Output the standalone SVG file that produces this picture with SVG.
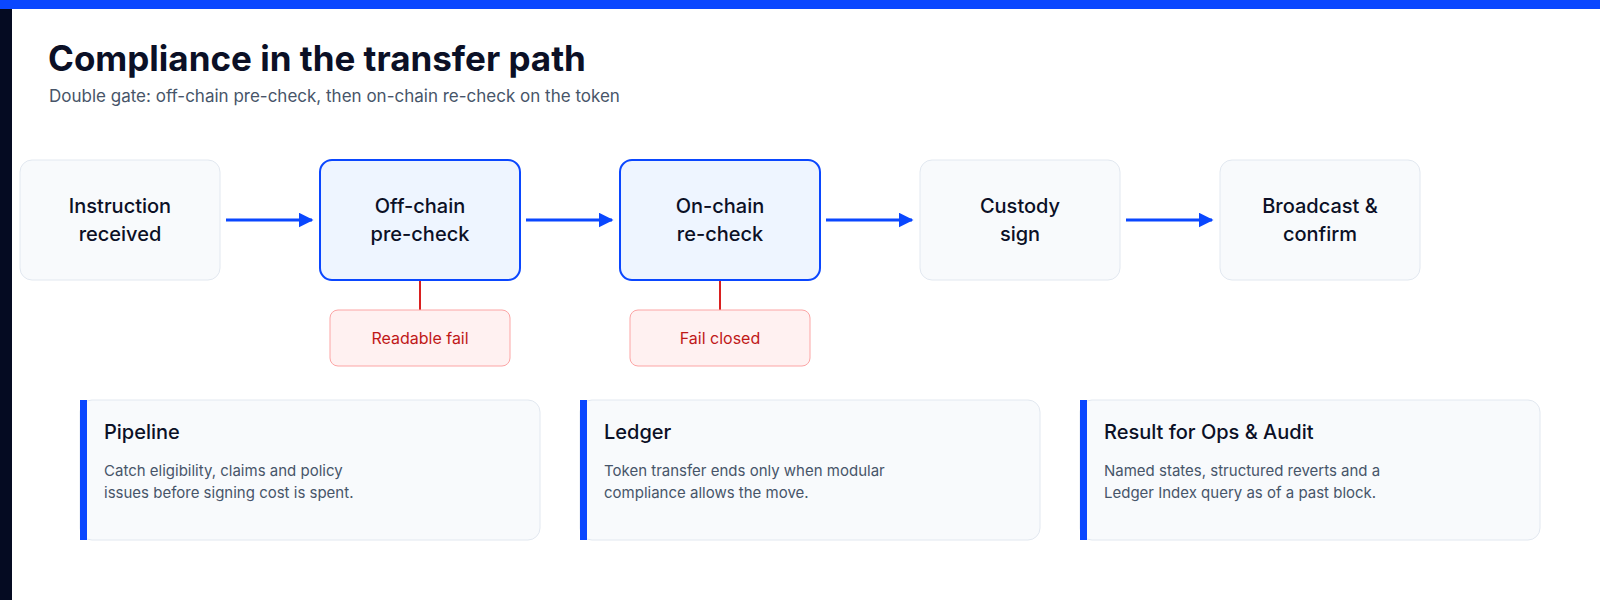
<svg xmlns="http://www.w3.org/2000/svg" width="1600" height="600" viewBox="0 0 1600 600">
<style>
text{font-family:Inter,"Noto Sans",sans-serif}
.node{fill:#f8fafc;stroke:#e2e8f0;stroke-width:1}
.act{fill:#eef5ff;stroke:#0a47ff;stroke-width:2}
.nt{font-size:20px;font-weight:500;fill:#0b1026;text-anchor:middle}
.fail{fill:#fff1f1;stroke:#fca5a5;stroke-width:1}
.ft{font-size:16px;fill:#c01818;text-anchor:middle}
.card{fill:#f8fafc;stroke:#e2e8f0;stroke-width:1}
.ct{font-size:20px;font-weight:500;fill:#0b1026}
.cb{font-size:15px;fill:#475569}
.arr{stroke:#0a47ff;stroke-width:3;fill:none;marker-end:url(#ah)}
.red{stroke:#d92020;stroke-width:2}
</style>
<defs>
<marker id="ah" viewBox="0 0 10 10" refX="9" refY="5" markerWidth="5" markerHeight="5" markerUnits="strokeWidth" orient="auto"><path d="M0,0 L10,5 L0,10 z" fill="#0a47ff"/></marker>
</defs>
<rect width="1600" height="600" fill="#ffffff"/>
<rect x="0" y="0" width="1600" height="9" fill="#0a47ff"/>
<rect x="0" y="9" width="12" height="591" fill="#050b22"/>
<text x="48" y="71" font-size="35" font-weight="700" fill="#0b1026">Compliance in the transfer path</text>
<text x="49" y="102" font-size="17" fill="#475569">Double gate: off-chain pre-check, then on-chain re-check on the token</text>
<g id="connectors">
<line class="arr" x1="226" y1="220" x2="312" y2="220"/>
<line class="arr" x1="526" y1="220" x2="612" y2="220"/>
<line class="arr" x1="826" y1="220" x2="912" y2="220"/>
<line class="arr" x1="1126" y1="220" x2="1212" y2="220"/>
<line class="red" x1="420" y1="281" x2="420" y2="310"/>
<line class="red" x1="720" y1="281" x2="720" y2="310"/>
</g>
<g id="n1"><rect class="node" x="20" y="160" width="200" height="120" rx="12"/><text class="nt" x="120" y="213">Instruction</text><text class="nt" x="120" y="241">received</text></g>
<g id="n2"><rect class="act" x="320" y="160" width="200" height="120" rx="12"/><text class="nt" x="420" y="213">Off-chain</text><text class="nt" x="420" y="241">pre-check</text></g>
<g id="n3"><rect class="act" x="620" y="160" width="200" height="120" rx="12"/><text class="nt" x="720" y="213">On-chain</text><text class="nt" x="720" y="241">re-check</text></g>
<g id="n4"><rect class="node" x="920" y="160" width="200" height="120" rx="12"/><text class="nt" x="1020" y="213">Custody</text><text class="nt" x="1020" y="241">sign</text></g>
<g id="n5"><rect class="node" x="1220" y="160" width="200" height="120" rx="12"/><text class="nt" x="1320" y="213">Broadcast &amp;</text><text class="nt" x="1320" y="241">confirm</text></g>
<g id="f1"><rect class="fail" x="330" y="310" width="180" height="56" rx="8"/><text class="ft" x="420" y="344">Readable fail</text></g>
<g id="f2"><rect class="fail" x="630" y="310" width="180" height="56" rx="8"/><text class="ft" x="720" y="344">Fail closed</text></g>
<g id="c1"><rect class="card" x="80" y="400" width="460" height="140" rx="12"/><rect x="80" y="400" width="7" height="140" fill="#0a47ff"/><text class="ct" x="104" y="439">Pipeline</text><text class="cb" x="104" y="476">Catch eligibility, claims and policy</text><text class="cb" x="104" y="498">issues before signing cost is spent.</text></g>
<g id="c2"><rect class="card" x="580" y="400" width="460" height="140" rx="12"/><rect x="580" y="400" width="7" height="140" fill="#0a47ff"/><text class="ct" x="604" y="439">Ledger</text><text class="cb" x="604" y="476">Token transfer ends only when modular</text><text class="cb" x="604" y="498">compliance allows the move.</text></g>
<g id="c3"><rect class="card" x="1080" y="400" width="460" height="140" rx="12"/><rect x="1080" y="400" width="7" height="140" fill="#0a47ff"/><text class="ct" x="1104" y="439">Result for Ops &amp; Audit</text><text class="cb" x="1104" y="476">Named states, structured reverts and a</text><text class="cb" x="1104" y="498">Ledger Index query as of a past block.</text></g>
</svg>
